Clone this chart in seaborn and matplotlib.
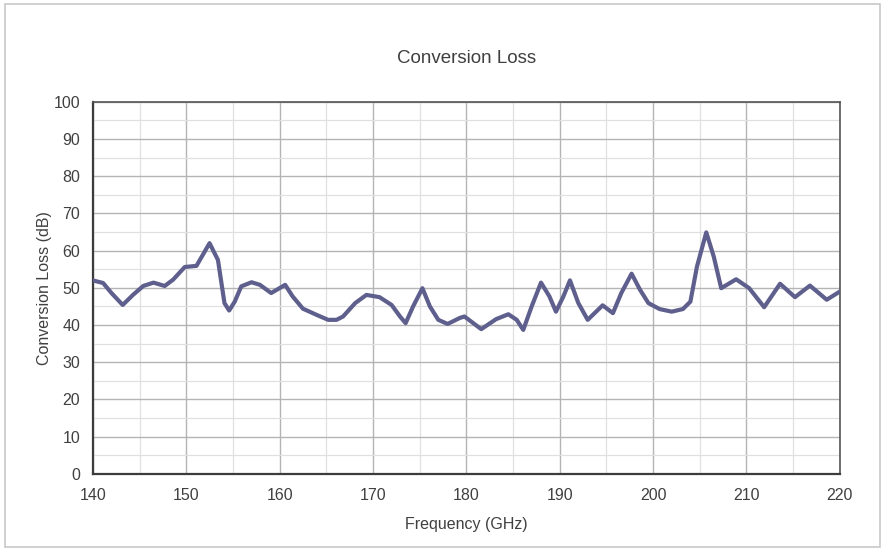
import seaborn as sns
import pandas as pd
import matplotlib.pyplot as plt
from matplotlib.patches import Rectangle
from matplotlib.ticker import MultipleLocator

sns.set_theme(style="white")
plt.rcParams['font.family'] = ['Liberation Sans', 'DejaVu Sans']

# Values
freq_ghz = [140.0, 141.1, 142.0, 143.2, 144.3, 145.4, 146.5, 147.7, 148.6, 149.85,
            151.1, 152.5, 153.4, 154.1, 154.6, 155.2, 155.9, 157.0, 157.9, 159.1,
            160.6, 161.4, 162.5, 164.0, 165.2, 166.1, 166.8, 168.1, 169.3, 170.7,
            172.0, 172.9, 173.5, 174.3, 175.3, 176.1, 177.0, 178.0, 179.3, 179.8,
            181.6, 183.2, 184.5, 185.4, 186.1, 187.0, 188.0, 188.9, 189.6, 190.4,
            191.1, 192.0, 193.0, 194.6, 195.7, 196.6, 197.7, 198.6, 199.5, 200.7,
            202.0, 203.2, 204.0, 204.7, 205.7, 206.5, 207.3, 208.9, 210.3, 211.9,
            213.6, 215.2, 216.8, 218.6, 220.0]
loss_db = [52.0, 51.3, 48.6, 45.4, 48.1, 50.5, 51.4, 50.5, 52.2, 55.6,
           55.9, 62.0, 57.5, 45.9, 43.9, 46.3, 50.4, 51.5, 50.8, 48.6,
           50.8, 47.7, 44.4, 42.7, 41.4, 41.4, 42.3, 45.9, 48.1, 47.5,
           45.4, 42.3, 40.5, 45.0, 49.9, 45.0, 41.4, 40.3, 41.9, 42.3,
           38.9, 41.6, 42.9, 41.4, 38.7, 45.0, 51.4, 47.7, 43.6, 47.7,
           52.0, 45.9, 41.4, 45.3, 43.2, 48.6, 53.8, 49.5, 45.9, 44.3,
           43.6, 44.3, 46.3, 55.7, 64.9, 58.4, 49.9, 52.3, 49.9, 44.8,
           51.1, 47.5, 50.6, 46.8, 49.0]

df = pd.DataFrame({'Frequency (GHz)': freq_ghz, 'Conversion Loss (dB)': loss_db})

fig = plt.figure(figsize=(8.84, 5.53), dpi=100)
fig.patch.set_facecolor('white')
# light border around the chart area
fig.add_artist(Rectangle((0.006, 0.01), 0.99, 0.982, transform=fig.transFigure,
                         fill=False, edgecolor='#c8c8c8', linewidth=1.2))

ax = fig.add_axes([0.105, 0.143, 0.845, 0.673])
sns.lineplot(data=df, x='Frequency (GHz)', y='Conversion Loss (dB)', ax=ax,
             color='#5f5f8e', linewidth=3.0, solid_joinstyle='round',
             solid_capstyle='round', zorder=3)

ax.set_xlim(140, 220)
ax.set_ylim(0, 100)
ax.xaxis.set_major_locator(MultipleLocator(10))
ax.xaxis.set_minor_locator(MultipleLocator(5))
ax.yaxis.set_major_locator(MultipleLocator(10))
ax.yaxis.set_minor_locator(MultipleLocator(5))
ax.grid(which='major', color='#b4b4b4', linewidth=1.0)
ax.grid(which='minor', color='#e0e0e0', linewidth=0.9)
ax.set_axisbelow(True)

for side in ['left', 'bottom']:
    ax.spines[side].set_color('#3c3c3c')
    ax.spines[side].set_linewidth(1.6)
for side in ['top', 'right']:
    ax.spines[side].set_color('#555555')
    ax.spines[side].set_linewidth(1.2)

ax.tick_params(axis='both', which='both', length=0, labelsize=11.5,
               labelcolor='#404040')
ax.tick_params(axis='x', pad=10)
ax.tick_params(axis='y', pad=9)

ax.set_title('Conversion Loss', fontsize=13.5, color='#404040', pad=28)
ax.set_xlabel('Frequency (GHz)', fontsize=11.5, color='#404040', labelpad=10)
ax.set_ylabel('Conversion Loss (dB)', fontsize=11.5, color='#404040', labelpad=1)

fig.savefig('out.png', dpi=100)
